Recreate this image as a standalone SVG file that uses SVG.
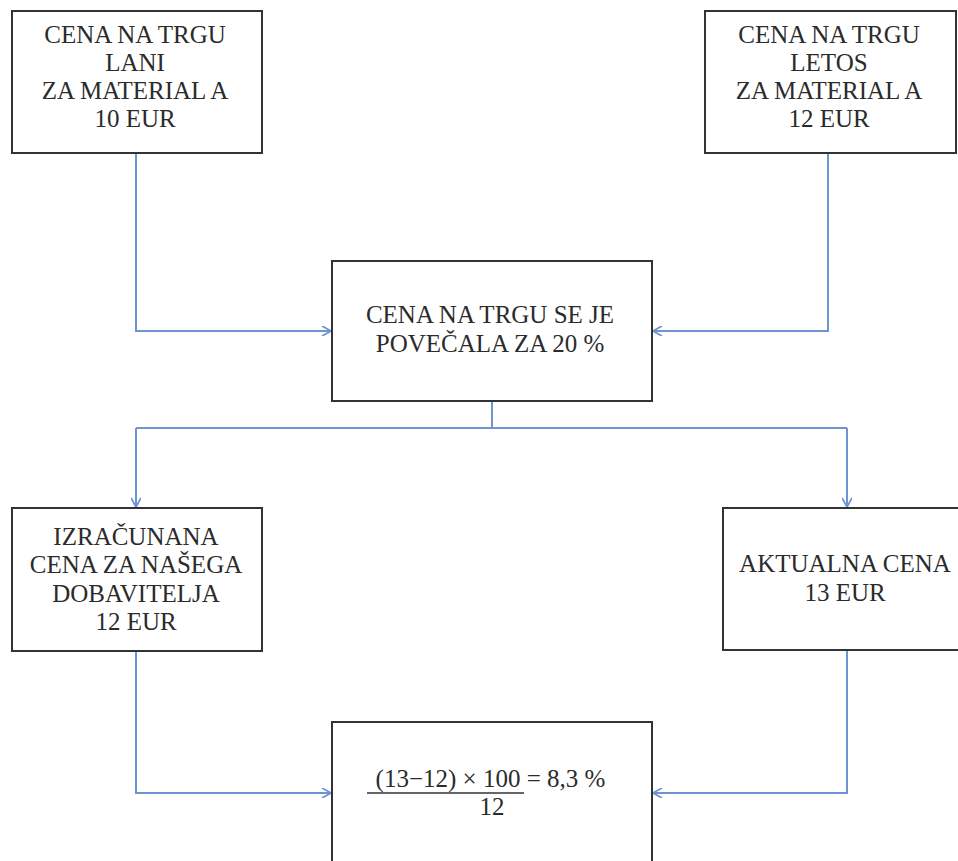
<svg xmlns="http://www.w3.org/2000/svg" width="958" height="861" viewBox="0 0 958 861">
  <style>
    .box { fill: #ffffff; stroke: #333333; stroke-width: 2; }
    .lbl { font-family: 'Liberation Serif', 'Times New Roman', serif; font-size: 25px; fill: #2b2b2b; text-anchor: middle; }
    .conn { fill: none; stroke: #6f94d2; stroke-width: 2; }
  </style>
  <defs>
    <marker id="arrow" viewBox="0 0 10 10" refX="10" refY="5" markerWidth="10" markerHeight="10" markerUnits="userSpaceOnUse" orient="auto">
      <path d="M1,0 L10,5 L1,10" fill="none" stroke="#6f94d2" stroke-width="1.8"/>
    </marker>
  </defs>
  <rect width="958" height="861" fill="#ffffff"/>

  <g id="connectors">
    <path class="conn" d="M136,153 V331 H331" marker-end="url(#arrow)"/>
    <path class="conn" d="M828,153 V331 H653" marker-end="url(#arrow)"/>
    <path class="conn" d="M492,401 V428"/>
    <path class="conn" d="M136,428 H847"/>
    <path class="conn" d="M136,428 V507" marker-end="url(#arrow)"/>
    <path class="conn" d="M847,428 V507" marker-end="url(#arrow)"/>
    <path class="conn" d="M136,651 V793 H331" marker-end="url(#arrow)"/>
    <path class="conn" d="M847,651 V793 H653" marker-end="url(#arrow)"/>
  </g>

  <g id="price-last-year">
    <rect class="box" x="12" y="11" width="250" height="142"/>
    <text class="lbl" x="135" y="43">CENA NA TRGU</text>
    <text class="lbl" x="135" y="71">LANI</text>
    <text class="lbl" x="135" y="99">ZA MATERIAL A</text>
    <text class="lbl" x="135" y="127">10 EUR</text>
  </g>

  <g id="price-this-year">
    <rect class="box" x="705" y="11" width="251" height="142"/>
    <text class="lbl" x="829" y="43">CENA NA TRGU</text>
    <text class="lbl" x="829" y="71">LETOS</text>
    <text class="lbl" x="829" y="99">ZA MATERIAL A</text>
    <text class="lbl" x="829" y="127">12 EUR</text>
  </g>

  <g id="increase">
    <rect class="box" x="332" y="261" width="320" height="140"/>
    <text class="lbl" x="490" y="323">CENA NA TRGU SE JE</text>
    <text class="lbl" x="490" y="352">POVEČALA ZA 20 %</text>
  </g>

  <g id="calculated-price">
    <rect class="box" x="12" y="508" width="250" height="143"/>
    <text class="lbl" x="136" y="545">IZRAČUNANA</text>
    <text class="lbl" x="136" y="573">CENA ZA NAŠEGA</text>
    <text class="lbl" x="136" y="602">DOBAVITELJA</text>
    <text class="lbl" x="136" y="630">12 EUR</text>
  </g>

  <g id="actual-price">
    <rect class="box" x="723" y="508" width="240" height="142"/>
    <text class="lbl" x="845" y="572">AKTUALNA CENA</text>
    <text class="lbl" x="845" y="601">13 EUR</text>
  </g>

  <g id="result">
    <rect class="box" x="332" y="722" width="320" height="150"/>
    <text class="lbl" x="448" y="787">(13−12) × 100</text>
    <text class="lbl" x="566" y="787">= 8,3 %</text>
    <line x1="367" y1="793" x2="524" y2="793" stroke="#333333" stroke-width="1.5"/>
    <text class="lbl" x="492" y="815">12</text>
  </g>
</svg>
